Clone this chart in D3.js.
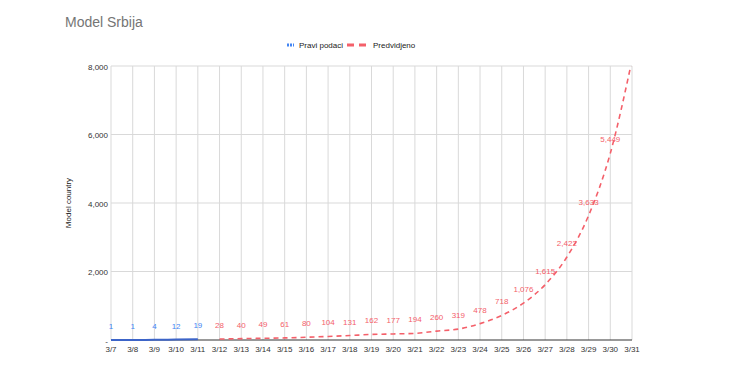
<!DOCTYPE html>
<html>
<head>
<meta charset="utf-8">
<script src="https://cdn.jsdelivr.net/npm/d3@7"></script>
<style>
  body { margin: 0; background: #fff; }
  svg text { font-family: Arial, "Liberation Sans", Roboto, sans-serif; }
</style>
</head>
<body>
<div id="chart"></div>
<script>
const width = 730;
const height = 376;

const dates = ["3/7", "3/8", "3/9", "3/10", "3/11", "3/12", "3/13", "3/14", "3/15", "3/16",
  "3/17", "3/18", "3/19", "3/20", "3/21", "3/22", "3/23", "3/24", "3/25", "3/26",
  "3/27", "3/28", "3/29", "3/30", "3/31"];

const realDates = ["3/7", "3/8", "3/9", "3/10", "3/11"];
const realValues = [1, 1, 4, 12, 19];

const predDates = ["3/12", "3/13", "3/14", "3/15", "3/16", "3/17", "3/18", "3/19", "3/20", "3/21",
  "3/22", "3/23", "3/24", "3/25", "3/26", "3/27", "3/28", "3/29", "3/30", "3/31"];
const predValues = [28, 40, 49, 61, 80, 104, 131, 162, 177, 194,
  260, 319, 478, 718, 1076, 1615, 2422, 3633, 5449, 8173];

const yTicks = [0, 2000, 4000, 6000, 8000];

const blue = "#4285f4";
const blueLine = "#3c64c8";
const red = "#f4606a";

const margin = { top: 66, right: 98, bottom: 36, left: 111 };
const innerW = width - margin.left - margin.right;
const innerH = height - margin.top - margin.bottom;

const svg = d3.select("#chart")
  .append("svg")
  .attr("width", width)
  .attr("height", height)
  .attr("font-family", "Arial, 'Liberation Sans', sans-serif");

// title
svg.append("text")
  .attr("x", 65)
  .attr("y", 27)
  .attr("font-size", 14)
  .attr("fill", "#757575")
  .text("Model Srbija");

const x = d3.scalePoint()
  .domain(dates)
  .range([0, innerW]);

const y = d3.scaleLinear()
  .domain([0, 8000])
  .range([innerH, 0]);

const g = svg.append("g")
  .attr("transform", `translate(${margin.left},${margin.top})`);

g.append("clipPath")
  .attr("id", "clip")
  .append("rect")
  .attr("x", -2)
  .attr("y", 0)
  .attr("width", innerW + 4)
  .attr("height", innerH);

// horizontal grid
g.selectAll(".hgrid")
  .data(yTicks.filter(d => d > 0))
  .enter()
  .append("line")
  .attr("x1", 0)
  .attr("x2", innerW)
  .attr("y1", d => y(d))
  .attr("y2", d => y(d))
  .attr("stroke", "#d9d9d9")
  .attr("stroke-width", 1);

// vertical grid
g.selectAll(".vgrid")
  .data(dates)
  .enter()
  .append("line")
  .attr("x1", d => x(d))
  .attr("x2", d => x(d))
  .attr("y1", 0)
  .attr("y2", innerH)
  .attr("stroke", "#d9d9d9")
  .attr("stroke-width", 1);

// baseline
g.append("line")
  .attr("x1", 0)
  .attr("x2", innerW)
  .attr("y1", innerH)
  .attr("y2", innerH)
  .attr("stroke", "#333")
  .attr("stroke-width", 1);

// y tick labels
g.selectAll(".ylab")
  .data(yTicks)
  .enter()
  .append("text")
  .attr("x", -3)
  .attr("y", d => y(d) + 3.5)
  .attr("text-anchor", "end")
  .attr("font-size", 8)
  .attr("fill", "#333")
  .text(d => d === 0 ? "-" : d3.format(",")(d));

// x tick labels
g.selectAll(".xlab")
  .data(dates)
  .enter()
  .append("text")
  .attr("x", d => x(d))
  .attr("y", innerH + 12)
  .attr("text-anchor", "middle")
  .attr("font-size", 8)
  .attr("fill", "#333")
  .text(d => d);

// y axis title
svg.append("text")
  .attr("transform", `translate(71,${margin.top + innerH / 2}) rotate(-90)`)
  .attr("text-anchor", "middle")
  .attr("font-size", 8)
  .attr("fill", "#222")
  .text("Model country");

const line = d3.line()
  .x(d => x(d[0]))
  .y(d => y(d[1]))
  .curve(d3.curveMonotoneX);

const realData = realDates.map((d, i) => [d, realValues[i]]);
const predData = predDates.map((d, i) => [d, predValues[i]]);

g.append("path")
  .datum(predData)
  .attr("clip-path", "url(#clip)")
  .attr("fill", "none")
  .attr("stroke", red)
  .attr("stroke-width", 1.6)
  .attr("stroke-dasharray", "5,4")
  .attr("d", line);

g.append("path")
  .datum(realData)
  .attr("fill", "none")
  .attr("stroke", blueLine)
  .attr("stroke-width", 2)
  .attr("d", line);

// annotations
g.selectAll(".rlab")
  .data(realData)
  .enter()
  .append("text")
  .attr("x", d => x(d[0]))
  .attr("y", d => y(d[1]) - 11)
  .attr("text-anchor", "middle")
  .attr("font-size", 8)
  .attr("fill", blue)
  .text(d => d3.format(",")(d[1]));

g.selectAll(".plab")
  .data(predData.filter(d => d[1] <= 8000))
  .enter()
  .append("text")
  .attr("x", d => x(d[0]))
  .attr("y", d => y(d[1]) - 11)
  .attr("text-anchor", "middle")
  .attr("font-size", 8)
  .attr("fill", red)
  .text(d => d3.format(",")(d[1]));

// legend
const legend = svg.append("g").attr("transform", "translate(0,45)");

legend.append("line")
  .attr("x1", 287).attr("x2", 294)
  .attr("y1", 0).attr("y2", 0)
  .attr("stroke", blue)
  .attr("stroke-width", 3)
  .attr("stroke-dasharray", "2,1");

legend.append("text")
  .attr("x", 299).attr("y", 3)
  .attr("font-size", 8)
  .attr("fill", "#222")
  .text("Pravi podaci");

legend.append("line")
  .attr("x1", 347).attr("x2", 366)
  .attr("y1", 0).attr("y2", 0)
  .attr("stroke", red)
  .attr("stroke-width", 3)
  .attr("stroke-dasharray", "7,5");

legend.append("text")
  .attr("x", 373).attr("y", 3)
  .attr("font-size", 8)
  .attr("fill", "#222")
  .text("Predvidjeno");
</script>
</body>
</html>
